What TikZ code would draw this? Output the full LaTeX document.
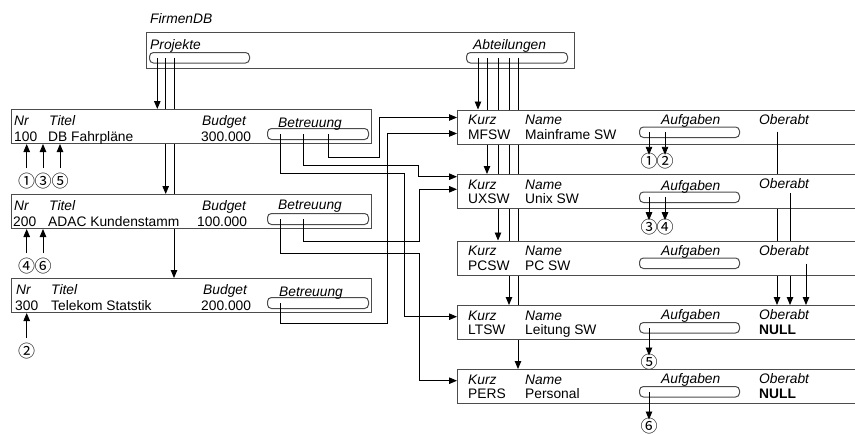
\documentclass[tikz,border=0pt]{standalone}
\usepackage{fontspec}
\setmainfont{Liberation Sans}
\newfontfamily\circfont{Noto Sans CJK SC}
\usetikzlibrary{arrows.meta,calc}
\begin{document}
\begin{tikzpicture}[x=1pt,y=-1pt,
  frame/.style={draw=black!70,fill=white,line width=1pt,inner sep=0pt,anchor=north west},
  slot/.style={draw=black!70,fill=white,line width=1pt,rounded corners=4pt,inner sep=0pt,anchor=north west,minimum width=100pt,minimum height=10.5pt},
  conn/.style={draw=black,line width=0.9pt},
  arr/.style={conn,-{Triangle[width=6.5pt,length=8pt]}},
  hd/.style={anchor=base west,inner sep=0pt,font=\fontsize{13.8}{16}\selectfont\itshape},
  val/.style={anchor=base west,inner sep=0pt,font=\fontsize{13.8}{16}\selectfont},
  nul/.style={anchor=base west,inner sep=0pt,font=\fontsize{13.8}{16}\selectfont\bfseries},
  circ/.style={inner sep=0pt,anchor=center,font=\circfont\fontsize{17}{18}\selectfont},
  proj/.style={frame,minimum width=360pt,minimum height=34pt},
  dept/.style={frame,minimum width=420pt,minimum height=34pt}
]
\fill[white] (0,0) rectangle (855,434);
\clip (0,0) rectangle (855,434);

% box corners
\coordinate (P1) at (11,109);
\coordinate (P2) at (11,194);
\coordinate (P3) at (11,278);
\coordinate (D1) at (457,109.5);
\coordinate (D2) at (457,174);
\coordinate (D3) at (457,240.5);
\coordinate (D4) at (457,305);
\coordinate (D5) at (457,369);

% database box
\node[hd] (fdb) at (150,23) {FirmenDB};
\node[frame,minimum width=428pt,minimum height=36pt] (db) at (146,32) {};
\node[slot,minimum width=100pt] (prj) at (149,52) {};
\node[slot,minimum width=101pt] (abt) at (466,52) {};
\node[hd] (prjt) at (150,49.5) {Projekte};
\node[hd] (abtt) at (473,49.5) {Abteilungen};

% pointers from the sets
\draw[arr] ($(prj.west)+(8.3,0)$) -- ($(P1)+(146.3,0)$);
\draw[arr] ($(prj.west)+(16.7,0)$) -- ($(P2)+(154.7,0)$);
\draw[arr] ($(prj.west)+(25,0)$) -- ($(P3)+(163,0)$);
\draw[arr] ($(abt.west)+(12,0)$) -- ($(D1)+(21,0)$);
\draw[arr] ($(abt.west)+(21,0)$) -- ($(D2)+(30,0)$);
\draw[arr] ($(abt.west)+(32,0)$) -- ($(D3)+(41,0)$);
\draw[arr] ($(abt.west)+(43,0)$) -- ($(D4)+(52,0)$);
\draw[arr] ($(abt.west)+(52,0)$) -- ($(D5)+(61,0)$);

% ---- project 100
\node[proj] (p1) at (P1) {};
\node[slot,minimum width=101pt,minimum height=11pt] (p1s) at ($(P1)+(256,19)$) {};
\node[hd] at ($(P1)+(3,16.5)$) {Nr};
\node[hd] at ($(P1)+(38,16.5)$) {Titel};
\node[hd] at ($(P1)+(191,16.5)$) {Budget};
\node[hd] at ($(P1)+(267,18.5)$) {Betreuung};
\node[val] at ($(P1)+(3,32)$) {100};
\node[val] at ($(P1)+(37,32)$) {DB Fahrpläne};
\node[val] at ($(P1)+(190,32)$) {300.000};
\node[circ] (a1) at (26.7,181) {①};
\node[circ] (a3) at (43,181) {③};
\node[circ] (a5) at (60,181) {⑤};
\draw[arr] ($(a1.center)+(0,-13)$) -- (a1 |- p1.south);
\draw[arr] ($(a3.center)+(0,-13)$) -- (a3 |- p1.south);
\draw[arr] ($(a5.center)+(0,-13)$) -- (a5 |- p1.south);
\draw[arr] ($(p1s.west)+(61,0)$) |- (379,157.3) |- ($(D1)+(0,8)$);
\draw[arr] ($(p1s.west)+(36,0)$) |- (418.5,165) |- ($(D2)+(0,2.7)$);
\draw[arr] ($(p1s.west)+(13,0)$) |- (404.3,173.3) |- ($(D4)+(0,11.7)$);

% ---- project 200
\node[proj] (p2) at (P2) {};
\node[slot,minimum width=101pt,minimum height=11pt] (p2s) at ($(P2)+(256,19)$) {};
\node[hd] at ($(P2)+(3,16.5)$) {Nr};
\node[hd] at ($(P2)+(38,16.5)$) {Titel};
\node[hd] at ($(P2)+(191,16.5)$) {Budget};
\node[hd] at ($(P2)+(267,15.5)$) {Betreuung};
\node[val] at ($(P2)+(2,32)$) {200};
\node[val] at ($(P2)+(37,32)$) {ADAC Kundenstamm};
\node[val] at ($(P2)+(186,32)$) {100.000};
\node[circ] (b4) at (26.7,266) {④};
\node[circ] (b6) at (43,266) {⑥};
\draw[arr] ($(b4.center)+(0,-13)$) -- (b4 |- p2.south);
\draw[arr] ($(b6.center)+(0,-13)$) -- (b6 |- p2.south);
\draw[arr] ($(p2s.west)+(36,0)$) |- (419,241) |- ($(D2)+(0,15.3)$);
\draw[arr] ($(p2s.west)+(13,0)$) |- (419,253) |- ($(D5)+(0,11.7)$);

% ---- project 300
\node[proj] (p3) at (P3) {};
\node[slot,minimum width=101pt,minimum height=11pt] (p3s) at ($(P3)+(256,19)$) {};
\node[hd] at ($(P3)+(5,16.5)$) {Nr};
\node[hd] at ($(P3)+(40,16.5)$) {Titel};
\node[hd] at ($(P3)+(192,16.5)$) {Budget};
\node[hd] at ($(P3)+(268,18.5)$) {Betreuung};
\node[val] at ($(P3)+(4,32)$) {300};
\node[val] at ($(P3)+(40,32)$) {Telekom Statstik};
\node[val] at ($(P3)+(190,32)$) {200.000};
\node[circ] (c2) at (26.7,351) {②};
\draw[arr] ($(c2.center)+(0,-13)$) -- (c2 |- p3.south);
\draw[arr] ($(p3s.west)+(13,0)$) |- (387,323.3) |- ($(D1)+(0,24)$);

% ---- MFSW
\node[dept] (mf) at (D1) {};
\node[slot] (mfs) at ($(D1)+(182,17)$) {};
\node[hd] at ($(D1)+(11,15)$) {Kurz};
\node[hd] at ($(D1)+(68,15)$) {Name};
\node[hd] at ($(D1)+(204,14.5)$) {Aufgaben};
\node[hd] at ($(D1)+(302,14.5)$) {Oberabt};
\node[val] at ($(D1)+(11,29.5)$) {MFSW};
\node[val] at ($(D1)+(68,29.5)$) {Mainframe SW};
\node[circ] (k1) at (649,161.3) {①};
\node[circ] (k2) at (665,161.3) {②};
\draw[arr] (mfs.west -| k1) -- ($(k1.center)+(0,-6.5)$);
\draw[arr] (mfs.west -| k2) -- ($(k2.center)+(0,-6.5)$);
\draw[arr] ($(D1)+(320,22)$) -- ($(D4)+(320,0)$);

% ---- UXSW
\node[dept] (ux) at (D2) {};
\node[slot] (uxs) at ($(D2)+(182,17.5)$) {};
\node[hd] at ($(D2)+(11,15)$) {Kurz};
\node[hd] at ($(D2)+(68,15)$) {Name};
\node[hd] at ($(D2)+(204,16)$) {Aufgaben};
\node[hd] at ($(D2)+(302,14)$) {Oberabt};
\node[val] at ($(D2)+(11,29.5)$) {UXSW};
\node[val] at ($(D2)+(68,29.5)$) {Unix SW};
\node[circ] (k3) at (649,226.7) {③};
\node[circ] (k4) at (665,226.7) {④};
\draw[arr] (uxs.west -| k3) -- ($(k3.center)+(0,-6.5)$);
\draw[arr] (uxs.west -| k4) -- ($(k4.center)+(0,-6.5)$);
\draw[arr] ($(D2)+(333,19)$) -- ($(D4)+(333,0)$);

% ---- PCSW
\node[dept] (pc) at (D3) {};
\node[slot] (pcs) at ($(D3)+(182,17)$) {};
\node[hd] at ($(D3)+(11,15)$) {Kurz};
\node[hd] at ($(D3)+(68,15)$) {Name};
\node[hd] at ($(D3)+(204,14.5)$) {Aufgaben};
\node[hd] at ($(D3)+(302,14.5)$) {Oberabt};
\node[val] at ($(D3)+(11,29.5)$) {PCSW};
\node[val] at ($(D3)+(68,29.5)$) {PC SW};
\draw[arr] ($(D3)+(349,23)$) -- ($(D4)+(349,0)$);

% ---- LTSW
\node[dept] (lt) at (D4) {};
\node[slot] (lts) at ($(D4)+(182,17)$) {};
\node[hd] at ($(D4)+(11,15)$) {Kurz};
\node[hd] at ($(D4)+(68,15)$) {Name};
\node[hd] at ($(D4)+(204,14.5)$) {Aufgaben};
\node[hd] at ($(D4)+(302,14.5)$) {Oberabt};
\node[val] at ($(D4)+(11,29.5)$) {LTSW};
\node[val] at ($(D4)+(68,29.5)$) {Leitung SW};
\node[nul] at ($(D4)+(302,29.5)$) {NULL};
\node[circ] (k5) at (649,362) {⑤};
\draw[arr] (lts.west -| k5) -- ($(k5.center)+(0,-6.5)$);

% ---- PERS
\node[dept] (pe) at (D5) {};
\node[slot] (pes) at ($(D5)+(182,17)$) {};
\node[hd] at ($(D5)+(11,15)$) {Kurz};
\node[hd] at ($(D5)+(68,15)$) {Name};
\node[hd] at ($(D5)+(204,14.5)$) {Aufgaben};
\node[hd] at ($(D5)+(302,14.5)$) {Oberabt};
\node[val] at ($(D5)+(11,29.5)$) {PERS};
\node[val] at ($(D5)+(68,29.5)$) {Personal};
\node[nul] at ($(D5)+(302,29.5)$) {NULL};
\node[circ] (k6) at (649,426) {⑥};
\draw[arr] (pes.west -| k6) -- ($(k6.center)+(0,-6.5)$);
\end{tikzpicture}
\end{document}
